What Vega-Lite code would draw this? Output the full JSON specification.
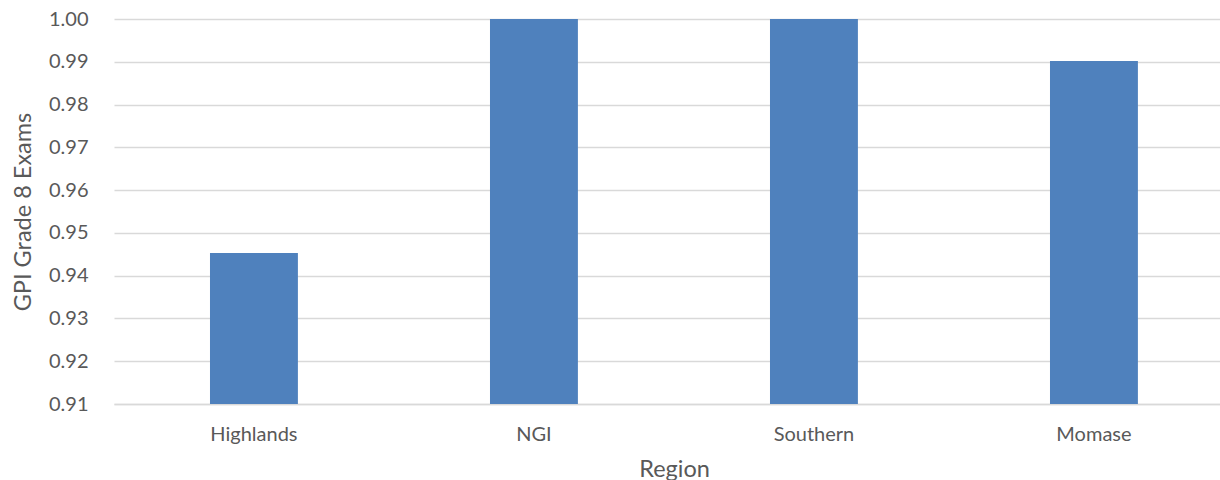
{
  "$schema": "https://vega.github.io/schema/vega-lite/v6.json",
  "width": 1106,
  "height": 385,
  "autosize": "none",
  "padding": {"left": 114, "top": 19, "right": 0, "bottom": 76},
  "background": "white",
  "config": {
    "view": {"stroke": null},
    "font": "Lato",
    "axis": {
      "labelFont": "Lato",
      "titleFont": "Lato",
      "labelColor": "#595959",
      "titleColor": "#595959",
      "labelFontSize": 20,
      "titleFontSize": 23.5,
      "titleFontWeight": "normal",
      "ticks": false,
      "gridColor": "#d9d9d9",
      "gridWidth": 1.3
    }
  },
  "data": {
    "values": [
      {"Region": "Highlands", "GPI": 0.9453},
      {"Region": "NGI", "GPI": 1.0},
      {"Region": "Southern", "GPI": 1.0},
      {"Region": "Momase", "GPI": 0.9902}
    ]
  },
  "mark": {"type": "bar", "color": "#4f81bd", "clip": true},
  "encoding": {
    "x": {
      "field": "Region",
      "type": "nominal",
      "sort": null,
      "scale": {"paddingInner": 0.686, "paddingOuter": 0.318, "align": 0.539},
      "axis": {
        "labelAngle": 0,
        "labelPadding": 20,
        "domainColor": "#d9d9d9",
        "domainWidth": 1.3,
        "title": "Region",
        "titleX": 560,
        "titlePadding": 13
      }
    },
    "y": {
      "field": "GPI",
      "type": "quantitative",
      "scale": {"domain": [0.91, 1.0], "zero": false, "nice": false},
      "axis": {
        "values": [0.91, 0.92, 0.93, 0.94, 0.95, 0.96, 0.97, 0.98, 0.99, 1.0],
        "format": ".2f",
        "domain": false,
        "labelPadding": 26,
        "title": "GPI Grade 8 Exams",
        "titlePadding": 13
      }
    }
  }
}
